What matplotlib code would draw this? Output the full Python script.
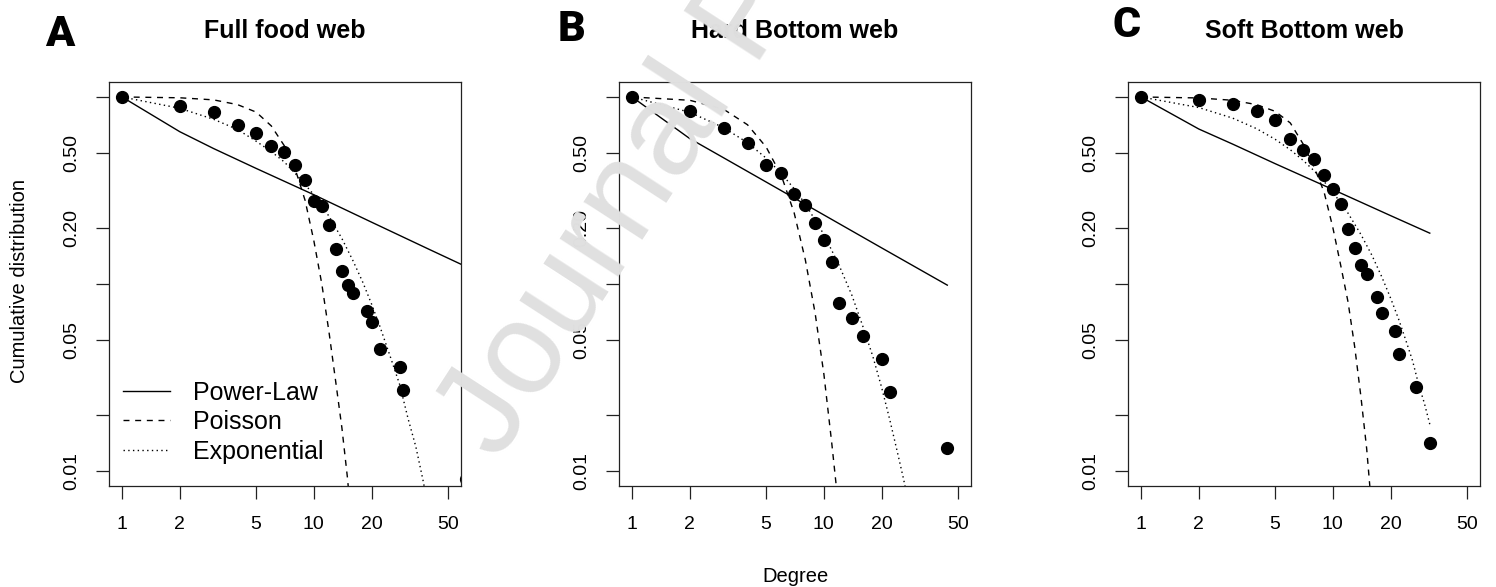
import matplotlib
matplotlib.use('Agg')
import matplotlib.pyplot as plt
import numpy as np

plt.rcParams['font.family'] = ['Liberation Sans', 'DejaVu Sans']

W, H = 1496, 587

# observed cumulative degree distributions
a_deg = [1, 2, 3, 4, 5, 6, 7, 8, 9, 10, 11, 12, 13, 14, 15, 16, 19, 20, 22, 28, 29, 62]
a_cum = [1.0, 0.895, 0.83, 0.708, 0.641, 0.546, 0.509, 0.432, 0.362, 0.278, 0.261, 0.207,
         0.153, 0.117, 0.099, 0.0897, 0.0721, 0.0629, 0.045, 0.0358, 0.0271, 0.0091]
b_deg = [1, 2, 3, 4, 5, 6, 7, 8, 9, 10, 11, 12, 14, 16, 20, 22, 44]
b_cum = [1.0, 0.846, 0.686, 0.567, 0.435, 0.394, 0.304, 0.264, 0.212, 0.171, 0.131,
         0.079, 0.0658, 0.0525, 0.0396, 0.0264, 0.0132]
c_deg = [1, 2, 3, 4, 5, 6, 7, 8, 9, 10, 11, 12, 13, 14, 15, 17, 18, 21, 22, 27, 32]
c_cum = [1.0, 0.96, 0.917, 0.838, 0.75, 0.596, 0.523, 0.466, 0.381, 0.323, 0.269, 0.197,
         0.155, 0.127, 0.113, 0.085, 0.0704, 0.0563, 0.0423, 0.0282, 0.0141]

# fitted power-law
a_pl_x = [1, 2, 3, 5, 10, 20, 40, 62]
a_pl_y = [1.0, 0.652, 0.53, 0.415, 0.30, 0.214, 0.153, 0.124]
b_pl_x = [1, 2, 3, 5, 10, 20, 44]
b_pl_y = [1.0, 0.599, 0.473, 0.351, 0.234, 0.156, 0.0986]
c_pl_x = [1, 2, 3, 5, 10, 20, 32]
c_pl_y = [1.0, 0.674, 0.56, 0.44, 0.32, 0.232, 0.187]

# fitted poisson
a_po_x = list(range(1, 17))
a_po_y = [1.0, 0.99, 0.965, 0.91, 0.83, 0.70, 0.55, 0.41, 0.28, 0.17, 0.10, 0.055,
          0.03, 0.017, 0.009, 0.004]
b_po_x = list(range(1, 13))
b_po_y = [1.0, 0.96, 0.86, 0.71, 0.54, 0.38, 0.24, 0.135, 0.07, 0.033, 0.014, 0.006]
c_po_x = list(range(1, 17))
c_po_y = [1.0, 0.988, 0.96, 0.91, 0.838, 0.726, 0.56, 0.42, 0.31, 0.20, 0.125, 0.08,
          0.046, 0.025, 0.0132, 0.006]

# fitted exponential
a_ex_x = [1, 2, 3, 4, 5, 6, 7, 8, 9, 10, 12, 14, 16, 18, 20, 22, 25, 28, 31, 34, 37, 40]
a_ex_y = [1.0, 0.87, 0.76, 0.67, 0.58, 0.51, 0.45, 0.39, 0.34, 0.30, 0.23, 0.175, 0.133,
          0.102, 0.078, 0.060, 0.041, 0.029, 0.019, 0.0135, 0.009, 0.006]
b_ex_x = [1, 2, 3, 4, 5, 6, 7, 8, 10, 12, 14, 16, 18, 20, 22, 24, 26, 28, 30]
b_ex_y = [1.0, 0.828, 0.686, 0.569, 0.471, 0.39, 0.323, 0.268, 0.184, 0.126, 0.087,
          0.059, 0.041, 0.028, 0.019, 0.013, 0.0091, 0.0063, 0.0043]
c_ex_x = [1, 2, 3, 4, 5, 6, 7, 8, 9, 10, 12, 14, 16, 18, 20, 22, 24, 26, 28, 30, 32]
c_ex_y = [1.0, 0.878, 0.771, 0.677, 0.594, 0.522, 0.458, 0.402, 0.353, 0.310, 0.239,
          0.184, 0.142, 0.109, 0.084, 0.065, 0.050, 0.039, 0.029, 0.023, 0.0178]

titles = ['Full food web', 'Hard Bottom web', 'Soft Bottom web']
letters = ['A', 'B', 'C']
x_ticks = [1, 2, 5, 10, 20, 50]
y_ticks = [0.01, 0.02, 0.05, 0.1, 0.2, 0.5, 1]
y_ticklabels = ['0.01', '', '0.05', '', '0.20', '0.50', '']

panels = [
    (a_deg, a_cum, a_pl_x, a_pl_y, a_po_x, a_po_y, a_ex_x, a_ex_y),
    (b_deg, b_cum, b_pl_x, b_pl_y, b_po_x, b_po_y, b_ex_x, b_ex_y),
    (c_deg, c_cum, c_pl_x, c_pl_y, c_po_x, c_po_y, c_ex_x, c_ex_y),
]


def fx(px):
    return px / W


def fy(py):
    return 1 - py / H


def r_lims(lo, hi):
    # R style 4% padding on log axis
    llo, lhi = np.log10(lo), np.log10(hi)
    pad = 0.04 * (lhi - llo)
    return 10 ** (llo - pad), 10 ** (lhi + pad)


fig = plt.figure(figsize=(W / 100, H / 100), dpi=100)

ax_left = [109, 619, 1128]
letter_pos = [(45, 46), (558, 41), (1113, 37)]
dash = (0, (4.3, 4.1))
dot = (0, (1.0, 2.4))
axes = []

for i, (deg, cum, plx, ply, pox, poy, exx, exy) in enumerate(panels):
    ax = fig.add_axes([fx(ax_left[i]), fy(486), 352 / W, 404 / H])
    ax.set_xscale('log')
    ax.set_yscale('log')
    ax.plot(plx, ply, '-', color='black', lw=1.0, label='Power-Law')
    ax.plot(pox, poy, color='black', lw=1.0, linestyle=dash, label='Poisson')
    ax.plot(exx, exy, color='black', lw=1.0, linestyle=dot, label='Exponential')
    ax.plot(deg, cum, 'o', color='black', ms=8.5)
    ax.set_xlim(*r_lims(1, 50))
    ax.set_ylim(*r_lims(0.01, 1))
    ax.minorticks_off()
    ax.set_xticks(x_ticks)
    ax.set_xticklabels([str(t) for t in x_ticks])
    ax.set_yticks(y_ticks)
    ax.set_yticklabels(y_ticklabels, rotation=90, va='center')
    ax.tick_params(axis='both', direction='out', length=9.4, width=0.9, color='#222222',
                   labelsize=14)
    ax.tick_params(axis='x', pad=12.5)
    ax.tick_params(axis='y', pad=11.5)
    for sp in ax.spines.values():
        sp.set_linewidth(0.9)
        sp.set_color('#222222')
    cx = ax_left[i] + 176
    fig.text(fx(cx), fy(38), titles[i], ha='center', va='baseline', fontsize=18,
             fontweight='bold')
    lx, ly = letter_pos[i]
    fig.text(fx(lx), fy(ly), letters[i], ha='left', va='baseline', fontsize=31,
             fontweight='heavy', family=['Roboto', 'Liberation Sans'])
    axes.append(ax)

axes[0].legend(loc='center left', bbox_to_anchor=(fx(123), fy(422)),
               bbox_transform=fig.transFigure, frameon=False, fontsize=18,
               handlelength=1.88, handletextpad=0.92, borderpad=0, borderaxespad=0,
               labelspacing=0.22)

fig.text(fx(20), fy(281), 'Cumulative distribution', rotation=90, ha='center',
         va='center', fontsize=14.5)
fig.text(fx(795.5), fy(582), 'Degree', ha='center', va='baseline', fontsize=14.5)

# watermark
fig.text(fx(498), fy(462), 'Journal Pre-proof', rotation=57, rotation_mode='anchor',
         ha='left', va='baseline', fontsize=95, color='#e0e0e0', zorder=10)

fig.savefig('out.png', dpi=100)
